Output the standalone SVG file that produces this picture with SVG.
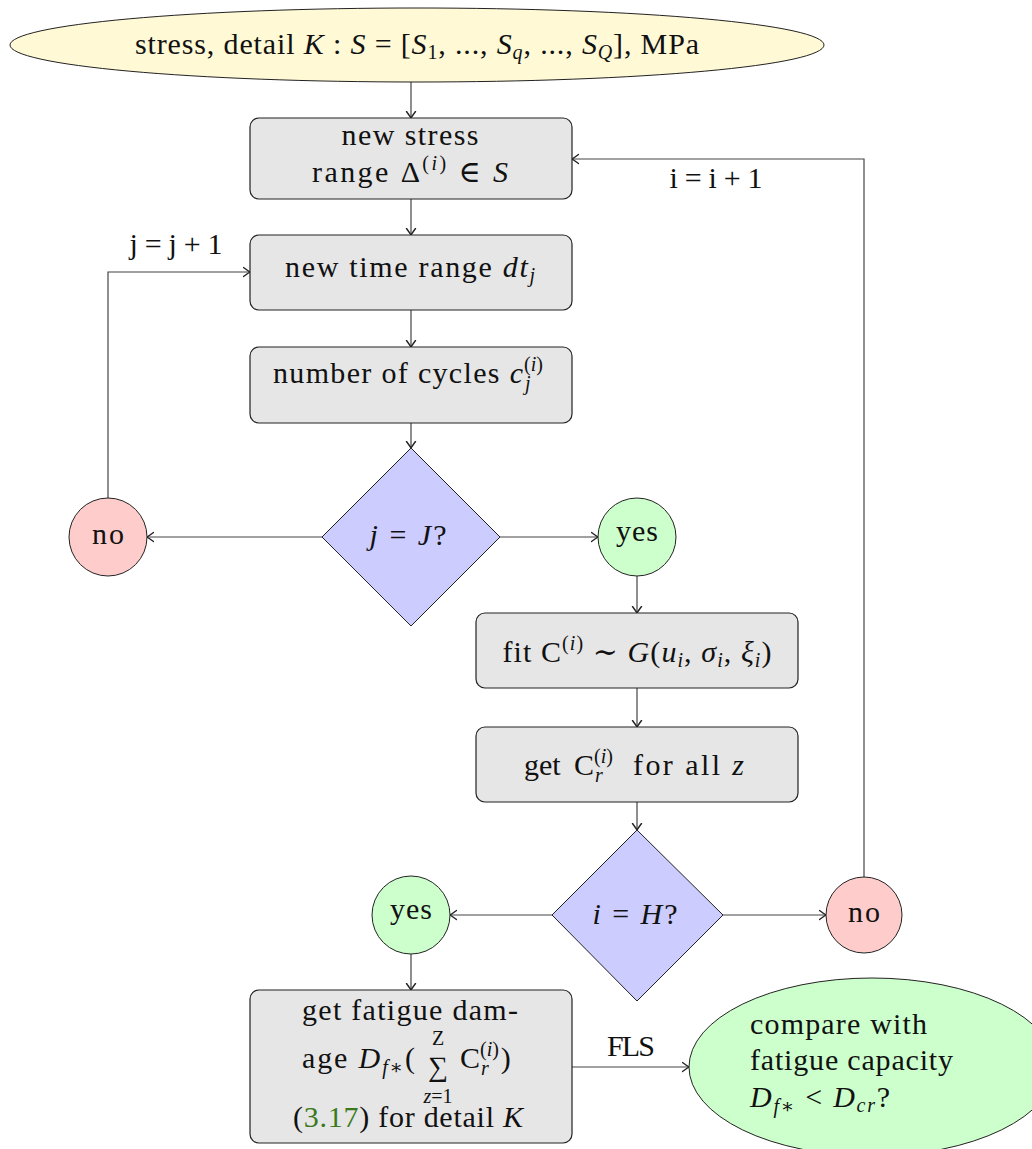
<svg xmlns="http://www.w3.org/2000/svg" width="1032" height="1149" viewBox="0 0 1032 1149">
<defs>
<marker id="arr" markerUnits="userSpaceOnUse" markerWidth="14" markerHeight="14" viewBox="-7 -7 14 14" refX="0" refY="0" orient="auto">
<path d="M-6.5,-4.5 Q-2,-1.2 0,0 Q-2,1.2 -6.5,4.5" fill="none" stroke="#222" stroke-width="1.4" stroke-linecap="round"/>
</marker>
<style>
text{font-family:"Liberation Serif","DejaVu Serif",serif;font-size:30px;fill:#111}
.m{text-anchor:middle}
.i{font-style:italic}
.sm{font-size:20px}
.box{fill:#e6e6e6;stroke:#222;stroke-width:1.2}
.dia{fill:#ccccff;stroke:#222;stroke-width:1}
.yes{fill:#ccffcc;stroke:#222;stroke-width:1}
.no{fill:#ffcccc;stroke:#222;stroke-width:1}
.start{fill:#fff9d6;stroke:#222;stroke-width:1}
.end{fill:#ccffcc;stroke:#222;stroke-width:1}
.c{fill:none;stroke:#444;stroke-width:1.2;marker-end:url(#arr)}
.lnk{fill:#3a7a1c}
</style>
</defs>

<g id="connectors">
<path class="c" d="M411,82 V118"/>
<path class="c" d="M411,199 V235"/>
<path class="c" d="M411,310 V347"/>
<path class="c" d="M411,423 V448"/>
<path class="c" d="M322,537 H147"/>
<path class="c" d="M500,537 H598"/>
<path class="c" d="M108,498 V272 H250"/>
<path class="c" d="M637,576 V613"/>
<path class="c" d="M637,688 V727"/>
<path class="c" d="M637,802 V830"/>
<path class="c" d="M552,915 H450"/>
<path class="c" d="M723,915 H826"/>
<path class="c" d="M864,877 V159 H572"/>
<path class="c" d="M411,954 V990"/>
<path class="c" d="M572,1067 H689"/>
<text class="m" x="176" y="254" textLength="93" lengthAdjust="spacing">j = j + 1</text>
<text class="m" x="716" y="188" textLength="93" lengthAdjust="spacing">i = i + 1</text>
<text class="m" x="631" y="1056" textLength="48" lengthAdjust="spacing">FLS</text>
</g>

<g id="start">
<ellipse class="start" cx="417" cy="45" rx="407" ry="37"/>
<text class="m" x="417" y="54" textLength="564" lengthAdjust="spacing">stress, detail <tspan class="i">K</tspan> : <tspan class="i">S</tspan> = [<tspan class="i">S</tspan><tspan class="sm" baseline-shift="-5">1</tspan>, ..., <tspan class="i">S</tspan><tspan class="sm i" baseline-shift="-5">q</tspan>, ..., <tspan class="i">S</tspan><tspan class="sm i" baseline-shift="-5">Q</tspan>], MPa</text>
</g>

<g id="new-stress">
<rect class="box" x="250" y="118" width="322" height="81" rx="9"/>
<text class="m" x="410" y="145" textLength="137" lengthAdjust="spacing">new stress</text>
<text class="m" x="410" y="182" textLength="196" lengthAdjust="spacing">range Δ<tspan class="sm" baseline-shift="12">(<tspan class="i">i</tspan>)</tspan>  ∈  <tspan class="i">S</tspan></text>
</g>

<g id="new-time">
<rect class="box" x="250" y="235" width="322" height="75" rx="9"/>
<text class="m" x="410" y="277" textLength="250" lengthAdjust="spacing">new time range <tspan class="i">dt</tspan><tspan class="sm i" baseline-shift="-5">j</tspan></text>
</g>

<g id="cycles">
<rect class="box" x="250" y="347" width="322" height="76" rx="9"/>
<text class="m" x="398" y="383" textLength="250" lengthAdjust="spacing">number of cycles <tspan class="i">c</tspan></text>
<text x="524" y="383"><tspan class="sm" baseline-shift="12">(<tspan class="i">i</tspan>)</tspan><tspan class="sm i" dx="-18" baseline-shift="-7">j</tspan></text>
</g>

<g id="dec-j">
<polygon class="dia" points="411,448 500,537 411,626 322,537"/>
<text class="m" x="408" y="545" textLength="77" lengthAdjust="spacing"><tspan class="i">j</tspan> = <tspan class="i">J</tspan>?</text>
</g>

<g id="no-j">
<circle class="no" cx="108" cy="537" r="39"/>
<text class="m" x="108" y="544" textLength="32" lengthAdjust="spacing">no</text>
</g>

<g id="yes-j">
<circle class="yes" cx="637" cy="537" r="39"/>
<text class="m" x="637" y="541" textLength="42" lengthAdjust="spacing">yes</text>
</g>

<g id="fit">
<rect class="box" x="476" y="613" width="322" height="75" rx="9"/>
<text class="m" x="637" y="662" textLength="269" lengthAdjust="spacing">fit C<tspan class="sm" baseline-shift="12">(<tspan class="i">i</tspan>)</tspan> ∼ <tspan class="i">G</tspan>(<tspan class="i">u</tspan><tspan class="sm i" baseline-shift="-5">i</tspan>, <tspan class="i">σ</tspan><tspan class="sm i" baseline-shift="-5">i</tspan>, <tspan class="i">ξ</tspan><tspan class="sm i" baseline-shift="-5">i</tspan>)</text>
</g>

<g id="get-cr">
<rect class="box" x="476" y="727" width="322" height="75" rx="9"/>
<text x="524" y="775">get</text>
<text x="574" y="775">C<tspan class="sm" baseline-shift="12">(<tspan class="i">i</tspan>)</tspan><tspan class="sm i" dx="-18" baseline-shift="-7">r</tspan></text>
<text x="633" y="775" textLength="111" lengthAdjust="spacing">for all <tspan class="i">z</tspan></text>
</g>

<g id="dec-i">
<polygon class="dia" points="637,830 723,915 637,1001 552,915"/>
<text class="m" x="635" y="924" textLength="85" lengthAdjust="spacing"><tspan class="i">i</tspan> = <tspan class="i">H</tspan>?</text>
</g>

<g id="yes-i">
<circle class="yes" cx="411" cy="915" r="39"/>
<text class="m" x="411" y="919" textLength="42" lengthAdjust="spacing">yes</text>
</g>

<g id="no-i">
<circle class="no" cx="864" cy="915" r="38"/>
<text class="m" x="864" y="922" textLength="32" lengthAdjust="spacing">no</text>
</g>

<g id="damage">
<rect class="box" x="250" y="990" width="322" height="153" rx="9"/>
<text class="m" x="410" y="1020" textLength="216" lengthAdjust="spacing">get fatigue dam-</text>
<text x="302" y="1068" textLength="113" lengthAdjust="spacing">age <tspan class="i">D</tspan><tspan class="sm" baseline-shift="-6"><tspan class="i">f</tspan>∗</tspan>(</text>
<text class="m" x="438" y="1076" style="font-size:28px">∑</text>
<text class="m sm" x="438" y="1045">Z</text>
<text class="m sm i" x="438" y="1103">z<tspan font-style="normal">=1</tspan></text>
<text x="460" y="1068">C<tspan class="sm" baseline-shift="12">(<tspan class="i">i</tspan>)</tspan><tspan class="sm i" dx="-18" baseline-shift="-7">r</tspan><tspan dx="12">)</tspan></text>
<text class="m" x="408" y="1127" textLength="230" lengthAdjust="spacing">(<tspan class="lnk">3.17</tspan>) for detail <tspan class="i">K</tspan></text>
</g>

<g id="compare">
<ellipse class="end" cx="872" cy="1067" rx="183" ry="89"/>
<text x="750" y="1034" textLength="177" lengthAdjust="spacing">compare with</text>
<text x="750" y="1070" textLength="203" lengthAdjust="spacing">fatigue capacity</text>
<text x="750" y="1107" textLength="140" lengthAdjust="spacing"><tspan class="i">D</tspan><tspan class="sm" baseline-shift="-6"><tspan class="i">f</tspan>∗</tspan> &lt; <tspan class="i">D</tspan><tspan class="sm i" baseline-shift="-5">cr</tspan>?</text>
</g>
</svg>
